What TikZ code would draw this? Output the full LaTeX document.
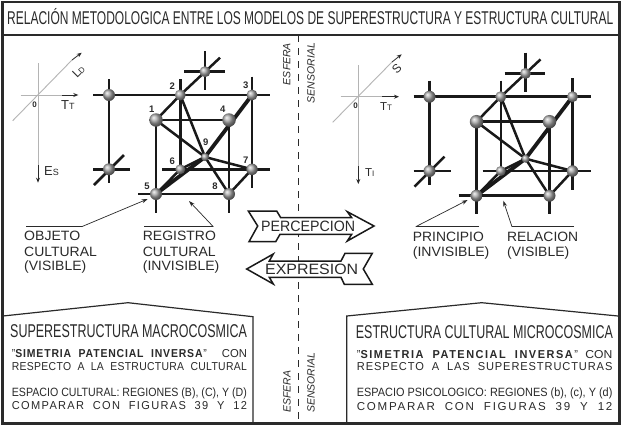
\documentclass[tikz,border=0pt]{standalone}
\usepackage{graphicx}
\usepackage{fontspec}
\setmainfont{Liberation Sans}
\usetikzlibrary{arrows.meta,backgrounds}
\newsavebox\tbx
% text of a given font size, set to an exact width
\newcommand\wt[3]{\sbox\tbx{\fontsize{#2}{#2}\selectfont #3}\resizebox{#1}{\ht\tbx}{\usebox\tbx}}
\newcommand\fs[2]{{\fontsize{#1}{#1}\selectfont #2}}
\definecolor{ink}{HTML}{2A2A2A}
\definecolor{axisgray}{HTML}{B4B4B4}
\tikzset{
  x=1pt,y=-1pt,
  frameline/.style={draw=ink,line width=2.8pt},
  panelline/.style={draw=ink,line width=1.2pt},
  bar/.style={black!90,line width=2.5pt},
  heavy/.style={black!90,line width=3.8pt},
  sphere/.style={circle,inner sep=0pt,minimum size=#1,shading=ball,ball color=black!35},
  sphere/.default=10pt,
  lbl/.style={inner sep=0pt,anchor=base west,text=ink},
  num/.style={inner sep=0pt,anchor=center,text=ink,font=\fontsize{9.5}{9.5}\selectfont\bfseries},
  axis/.style={axisgray,line width=0.9pt},
  axisdark/.style={ink,line width=0.8pt,-{Stealth[length=5pt,width=4pt]}},
  leader/.style={ink,line width=0.7pt},
  leadarrow/.style={ink,line width=0.7pt,-{Stealth[length=6pt,width=4pt]}},
  bigarrow/.style={draw=black!90,line width=1.5pt,fill=white,line join=miter},
  side/.style={inner sep=0pt,rotate=90,text=ink,font=\itshape},
}
% lattice, named with prefix #1
\newcommand\lattice[1]{%
  \node[sphere=11pt] (#1b) at (205,71.7) {};
  \node[sphere=12pt] (#1a) at (109,95) {};
  \node[sphere=11pt] (#1two) at (180.3,95) {};
  \node[sphere=11pt] (#1three) at (252,95) {};
  \node[sphere=12pt] (#1c) at (109,169.3) {};
  \node[sphere=10pt] (#1six) at (180.3,169.3) {};
  \node[sphere=11.5pt] (#1seven) at (252,169.3) {};
  \node[sphere=13.5pt] (#1one) at (156,120) {};
  \node[sphere=13.5pt] (#1four) at (229,120) {};
  \node[sphere=12pt] (#1five) at (156,194) {};
  \node[sphere=12pt] (#1eight) at (229,194) {};
  \node[sphere=8pt] (#1nine) at (205,157) {};
  \coordinate (#1h1) at (93,95);
  \coordinate (#1h2) at (270,95);
  \coordinate (#1v1) at (109,79);
  \coordinate (#1v2) at (109,183);
  \coordinate (#1h3) at (93,169.3);
  \coordinate (#1h4) at (130,169.3);
  \coordinate (#1d1) at (94,185);
  \coordinate (#1d2) at (124,155);
  \coordinate (#1h5) at (184,71.7);
  \coordinate (#1h6) at (224.5,71.7);
  \coordinate (#1v3) at (205,51);
  \coordinate (#1v4) at (205,90);
  \coordinate (#1d3) at (220,57.7);
  \coordinate (#1v5) at (180.3,79);
  \coordinate (#1v6) at (252,76.7);
  \coordinate (#1v7) at (252,188);
  \coordinate (#1h7) at (162,169.3);
  \coordinate (#1h8) at (270,169.3);
  \coordinate (#1v8) at (156,212.7);
  \coordinate (#1v9) at (229,212.7);
  \coordinate (#1h9) at (138,194);
  \begin{scope}[on background layer]
    \draw[bar] (#1h1) -- (#1h2);
    \draw[bar] (#1v1) -- (#1v2);
    \draw[bar] (#1h3) -- (#1h4);
    \draw[bar] (#1d1) -- (#1d2);
    \draw[bar] (#1h5) -- (#1h6);
    \draw[bar] (#1v3) -- (#1v4);
    \draw[bar] (#1two.center) -- (#1d3);
    \draw[bar] (#1v5) -- (#1six.center);
    \draw[bar] (#1v6) -- (#1v7);
    \draw[bar] (#1h7) -- (#1h8);
    \draw[bar] (#1one.center) -- (#1v8);
    \draw[bar] (#1four.center) -- (#1v9);
    \draw[bar] (#1h9) -- (#1eight.center);
    \draw[bar] (#1one.center) -- (#1four.center);
    \draw[bar] (#1one.center) -- (#1two.center);
    \draw[bar] (#1one.center) -- (#1nine.center);
    \draw[bar] (#1two.center) -- (#1nine.center);
    \draw[bar] (#1seven.center) -- (#1nine.center);
    \draw[bar] (#1eight.center) -- (#1nine.center);
    \draw[bar] (#1seven.center) -- (#1eight.center);
    \draw[bar] (#1six.center) -- (#1nine.center);
    \draw[bar] (#1five.center) -- (#1six.center);
    \draw[heavy] (#1three.center) -- (#1nine.center);
    \draw[heavy] (#1five.center) -- (#1nine.center);
  \end{scope}
}
\begin{document}
\begin{tikzpicture}
\useasboundingbox (0,0) rectangle (623,426);
\begin{scope}[on background layer]
  \fill[white] (0,0) rectangle (623,426);
\end{scope}

% frame and title rule
\coordinate (fa) at (2.3,2);
\coordinate (fb) at (619.5,423.5);
\coordinate (ta) at (2.3,35);
\coordinate (tb) at (619.5,35);
\draw[frameline] (fa) rectangle (fb);
\draw[draw=ink,line width=1.5pt] (ta) -- (tb);
\node[lbl] (title) at (7,24.8) {\wt{606pt}{18.5}{RELACIÓN METODOLOGICA ENTRE LOS MODELOS DE SUPERESTRUCTURA Y ESTRUCTURA CULTURAL}};

% central dashed axis
\coordinate (da) at (298.5,35);
\coordinate (db) at (298.5,423);
\draw[ink,line width=1.3pt,dash pattern=on 7pt off 6pt] (da) -- (db);
\node[side] (e1) at (286.7,64) {\wt{42pt}{10.5}{ESFERA}};
\node[side] (s1) at (311,73) {\wt{60pt}{10.5}{SENSORIAL}};
\node[side] (e2) at (287,391.7) {\wt{42pt}{10.5}{ESFERA}};
\node[side] (s2) at (311,382.7) {\wt{60pt}{10.5}{SENSORIAL}};

% left lattice
\lattice{l}
\node[num] (n1) at (151.7,109) {1};
\node[num] (n2) at (172.3,85.7) {2};
\node[num] (n3) at (245.7,85.7) {3};
\node[num] (n4) at (222.7,109) {4};
\node[num] (n5) at (147,186) {5};
\node[num] (n6) at (172.3,161) {6};
\node[num] (n7) at (245.7,160) {7};
\node[num] (n8) at (215,186.7) {8};
\node[num] (n9) at (205.7,142.7) {9};

% right lattice
\begin{scope}[shift={(320.5,1.7)}]
  \lattice{r}
\end{scope}

% left axes
\coordinate (la) at (38,63.3);
\coordinate (lam) at (38,165);
\coordinate (lb) at (38,182.7);
\coordinate (lc) at (20.7,95);
\coordinate (lcm) at (62,95);
\coordinate (ld) at (78.3,95);
\coordinate (le) at (12.7,120.7);
\coordinate (lem) at (72,60);
\coordinate (lf) at (81.7,52.7);
\draw[axis] (la) -- (lam);
\draw[axisdark] (lam) -- (lb);
\draw[axis] (lc) -- (lcm);
\draw[axisdark] (lcm) -- (ld);
\draw[axis] (le) -- (lem);
\draw[axisdark] (lem) -- (lf);
\node[lbl,anchor=center] (l0) at (34.7,104.7) {\fs{8}{\bfseries 0}};
\node[lbl] (ltt) at (61,109) {\fs{13}{T}\fs{9}{T}};
\node[lbl] (les) at (44,175) {\fs{13}{E}\fs{9}{S}};
\node[lbl,anchor=center,rotate=45] (lld) at (78.5,71.5) {\fs{12}{L}\fs{8}{D}};

% right axes
\coordinate (ra) at (358.3,65);
\coordinate (ram) at (358.3,166);
\coordinate (rb) at (358.3,184);
\coordinate (rc) at (340.7,96.7);
\coordinate (rcm) at (382,96.7);
\coordinate (rd) at (399,96.7);
\coordinate (re) at (332.7,122.3);
\coordinate (rem) at (392,62);
\coordinate (rf) at (401.7,54.3);
\draw[axis] (ra) -- (ram);
\draw[axisdark] (ram) -- (rb);
\draw[axis] (rc) -- (rcm);
\draw[axisdark] (rcm) -- (rd);
\draw[axis] (re) -- (rem);
\draw[axisdark] (rem) -- (rf);
\node[lbl,anchor=center] (r0) at (355.7,105.3) {\fs{8}{\bfseries 0}};
\node[lbl] (rtt) at (380,110) {\fs{11.5}{T}\fs{8}{T}};
\node[lbl] (rti) at (365,176.7) {\fs{11.5}{T}\fs{8}{I}};
\node[lbl,anchor=center,rotate=45] (rs) at (396.7,69) {\fs{12}{S}};

% labels with leaders
\node[lbl] (o1) at (24,240.7) {\wt{56pt}{13.5}{OBJETO}};
\node[lbl] (o2) at (24,256) {\wt{72.7pt}{13.5}{CULTURAL}};
\node[lbl] (o3) at (24,270.7) {\wt{62pt}{13.5}{(VISIBLE)}};
\node[lbl] (g1) at (142.7,240.7) {\wt{73pt}{13.5}{REGISTRO}};
\node[lbl] (g2) at (142.7,256) {\wt{72.7pt}{13.5}{CULTURAL}};
\node[lbl] (g3) at (142.7,270.7) {\wt{76.5pt}{13.5}{(INVISIBLE)}};
\node[lbl] (p1) at (412.7,241) {\wt{71pt}{13.5}{PRINCIPIO}};
\node[lbl] (p2) at (412.7,256.7) {\wt{76.5pt}{13.5}{(INVISIBLE)}};
\node[lbl] (q1) at (507,241) {\wt{71pt}{13.5}{RELACION}};
\node[lbl] (q2) at (507,256.7) {\wt{62pt}{13.5}{(VISIBLE)}};

\coordinate (ko1) at (26,226.7);
\coordinate (ko2) at (81.7,226.7);
\coordinate (ko3) at (147.7,199);
\draw[leader] (ko1) -- (ko2);
\draw[leadarrow] (ko2) -- (ko3);
\coordinate (kg1) at (144,226.7);
\coordinate (kg2) at (213.3,226.7);
\coordinate (kg3) at (189,201);
\draw[leader] (kg1) -- (kg2);
\draw[leadarrow] (kg2) -- (kg3);
\coordinate (kp1) at (479,226.7);
\coordinate (kp2) at (415.7,226.7);
\coordinate (kp3) at (467.7,200);
\draw[leader] (kp1) -- (kp2);
\draw[leadarrow] (kp2) -- (kp3);
\coordinate (kq1) at (574,226.7);
\coordinate (kq2) at (512,226.7);
\coordinate (kq3) at (503.3,200.7);
\draw[leader] (kq1) -- (kq2);
\draw[leadarrow] (kq2) -- (kq3);

% central big arrows
\draw[bigarrow] (248.3,211) -- (276.7,211) -- (280.7,217.7) -- (351.7,217.7) -- (347.3,211.7) -- (374,226) -- (347.3,241) -- (351.7,234.3) -- (280,234.3) -- (275.7,241.7) -- (249,241.7) -- (257.7,226) -- cycle;
\node[lbl] (perc) at (261,231.8) {\wt{94pt}{15}{PERCEPCION}};
\draw[bigarrow] (246.7,269) -- (273.3,254) -- (269.3,261) -- (341,261) -- (345,253.3) -- (372.3,253.3) -- (363.3,269) -- (372.3,284.3) -- (344.3,284.3) -- (341,277.3) -- (269.3,277.3) -- (273.3,284) -- cycle;
\node[lbl] (expr) at (265,274.5) {\wt{93pt}{15}{EXPRESION}};

% left panel
\draw[panelline] (3,316) -- (128,302.7) -- (253,316.7) -- (253,423);
\node[lbl] (lp0) at (10,337.3) {\wt{236.7pt}{18.5}{SUPERESTRUCTURA MACROCOSMICA}};
\node[lbl] (lp1) at (11.7,357.3) {\hbox to 235pt{\wt{195pt}{11.5}{"\textbf{\addfontfeature{LetterSpace=8}SIMETRIA\ \ PATENCIAL\ \ INVERSA}"}\hfill\wt{25pt}{11.5}{CON}}};
\node[lbl] (lp2) at (11.7,370.7) {\wt{235pt}{11.5}{\addfontfeature{LetterSpace=3}RESPECTO\ \ A\ \ LA\ \ ESTRUCTURA\ \ CULTURAL}};
\node[lbl] (lp3) at (11.7,396.7) {\wt{235pt}{12}{ESPACIO CULTURAL: REGIONES (B), (C), Y (D)}};
\node[lbl] (lp4) at (11.7,409.3) {\wt{235pt}{11.5}{\addfontfeature{LetterSpace=12}COMPARAR\ \ CON\ \ FIGURAS\ \ 39\ \ Y\ \ 12}};

% right panel
\draw[panelline] (346.7,423) -- (346.7,316) -- (481.7,302.7) -- (618,316);
\node[lbl] (rp0) at (355.7,338.3) {\wt{257pt}{18.5}{ESTRUCTURA CULTURAL MICROCOSMICA}};
\node[lbl] (rp1) at (356.7,358.3) {\hbox to 255.5pt{\wt{221pt}{11.5}{"\textbf{\addfontfeature{LetterSpace=14}SIMETRIA\ \ PATENCIAL\ \ INVERSA}"}\hfill\wt{27pt}{11.5}{CON}}};
\node[lbl] (rp2) at (356.7,370.7) {\wt{255.5pt}{11.5}{\addfontfeature{LetterSpace=8}RESPECTO\ \ A\ \ LAS\ \ SUPERESTRUCTURAS}};
\node[lbl] (rp3) at (356.7,396.7) {\wt{255.5pt}{12}{ESPACIO PSICOLOGICO: REGIONES (b), (c), Y (d)}};
\node[lbl] (rp4) at (356.7,410) {\wt{255.5pt}{11.5}{\addfontfeature{LetterSpace=15}COMPARAR\ \ CON\ \ FIGURAS\ \ 39\ \ Y\ \ 12}};
\end{tikzpicture}
\end{document}
